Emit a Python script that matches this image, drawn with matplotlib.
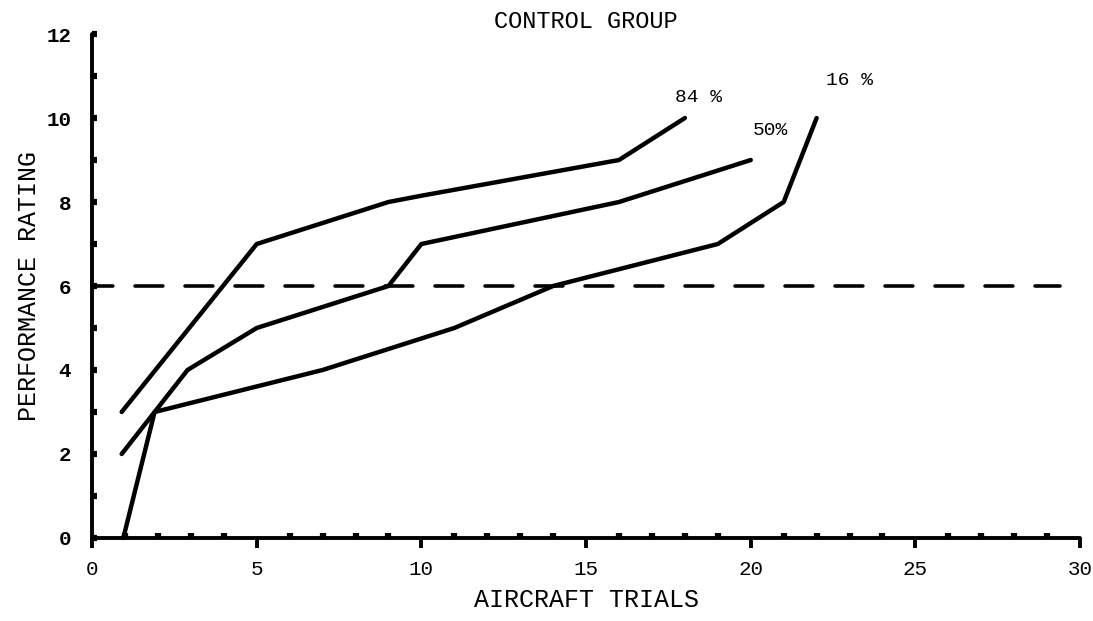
import matplotlib.pyplot as plt
from matplotlib.ticker import MultipleLocator

# percentile curves
trials_84 = [0.9, 5, 9, 10, 16, 18]
rating_84 = [3, 7, 8, 8.15, 9, 10]

trials_50 = [0.9, 1.9, 2.9, 5, 9, 10, 16, 20]
rating_50 = [2, 3, 4, 5, 6, 7, 8, 9]

trials_16 = [0.95, 1.9, 7, 11, 14, 19, 21, 22]
rating_16 = [0, 3, 4, 5, 6, 7, 8, 10]

criterion = 6
x_ticks = [0, 5, 10, 15, 20, 25, 30]
x_tick_labels = ["0", "5", "10", "15", "20", "25", "30"]
y_ticks = [0, 2, 4, 6, 8, 10, 12]

MONO = "Liberation Mono"
LW = 3.2

fig = plt.figure(figsize=(10.93, 6.21), dpi=100)
ax = fig.add_axes([0.0842, 0.1337, 0.904, 0.8115])

for xs, ys in [(trials_84, rating_84), (trials_50, rating_50), (trials_16, rating_16)]:
    ax.plot(xs, ys, color="black", lw=LW, solid_capstyle="round",
            solid_joinstyle="round", clip_on=False, zorder=3)

dash_lw = 2.6
ax.plot([0, 29.4], [criterion, criterion], color="black", lw=dash_lw,
        linestyle=(5 / dash_lw, (20 / dash_lw, 16 / dash_lw)),
        dash_capstyle="round", clip_on=False, zorder=2)

ax.text(18.4, 10.5, "84 %", family=MONO, fontsize=14, ha="center", va="center")
ax.text(20.6, 9.7, "50%", family=MONO, fontsize=14, ha="center", va="center")
ax.text(23.0, 10.9, "16 %", family=MONO, fontsize=14, ha="center", va="center")

ax.set_xlim(0, 30)
ax.set_ylim(0, 12)

for side in ["top", "right"]:
    ax.spines[side].set_visible(False)
for side in ["left", "bottom"]:
    ax.spines[side].set_linewidth(2.8)
    ax.spines[side].set_capstyle("round")

ax.set_xticks(x_ticks)
ax.set_xticklabels(x_tick_labels, family=MONO, fontsize=15)
ax.set_yticks(y_ticks)
ax.set_yticklabels([str(v) for v in y_ticks], family=MONO, fontsize=15, fontweight="bold")
ax.xaxis.set_minor_locator(MultipleLocator(1))
ax.yaxis.set_minor_locator(MultipleLocator(1))

ax.tick_params(axis="x", which="major", direction="out", length=7, width=2.8, pad=9)
ax.tick_params(axis="x", which="minor", direction="in", length=3.5, width=4.5)
ax.tick_params(axis="y", which="both", direction="in", length=3.5, width=4.5, pad=15)

ax.set_xlabel("AIRCRAFT TRIALS", family=MONO, fontsize=18)
ax.xaxis.set_label_coords(0.5, -0.1)
ax.set_ylabel("PERFORMANCE RATING", family=MONO, fontsize=18)
ax.yaxis.set_label_coords(-0.052, 0.5)

ax.text(0.5, 1.024, "CONTROL GROUP", transform=ax.transAxes, family=MONO,
        fontsize=17, ha="center", va="center")

fig.savefig("out.png", dpi=100)
